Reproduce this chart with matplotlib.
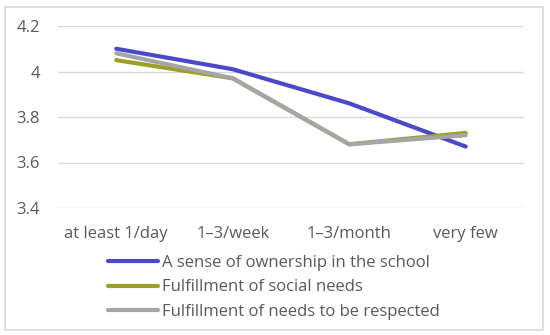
import matplotlib.pyplot as plt
from matplotlib.patches import Rectangle

categories = ['at least 1/day', '1\u20133/week', '1\u20133/month', 'very few']
ownership = [4.10, 4.01, 3.86, 3.67]
social = [4.05, 3.97, 3.68, 3.73]
respected = [4.08, 3.97, 3.68, 3.72]
yticks = [3.4, 3.6, 3.8, 4.0, 4.2]
ytick_labels = ['3.4', '3.6', '3.8', '4', '4.2']

plt.rcParams['font.family'] = ['Open Sans', 'DejaVu Sans']

fig = plt.figure(figsize=(5.5, 3.35), dpi=100)
ax = fig.add_axes([58 / 550, 1 - 208 / 335, 466 / 550, 182 / 335])

x = range(len(categories))
ax.plot(x, ownership, color='#4a4ac8', lw=3, label='A sense of ownership in the school', solid_capstyle='round')
ax.plot(x, social, color='#9aa024', lw=3, label='Fulfillment of social needs', solid_capstyle='round')
ax.plot(x, respected, color='#a5a5a5', lw=3, label='Fulfillment of needs to be respected', solid_capstyle='round')

ax.set_xlim(-0.5, 3.5)
ax.set_ylim(3.4, 4.2)
ax.set_yticks(yticks)
ax.set_yticklabels(ytick_labels)
ax.set_xticks(list(x))
ax.set_xticklabels(categories)
ax.tick_params(length=0, labelsize=12, colors='#595959', pad=13)
ax.tick_params(axis='y', pad=13)
ax.grid(axis='y', color='#d9d9d9', lw=1)
ax.set_axisbelow(True)
for s in ax.spines.values():
    s.set_visible(False)

fig.legend(loc='upper left', bbox_to_anchor=(108 / 550, 1 - 255 / 335), frameon=False,
           fontsize=12, labelcolor='#595959', handlelength=3.0, handletextpad=0.25,
           labelspacing=0.5, borderpad=0, borderaxespad=0)

fig.patches.append(Rectangle((5 / 550, 5 / 335), 538 / 550, 323 / 335, transform=fig.transFigure,
                             fill=False, edgecolor='#d9d9d9', lw=1.2))

fig.savefig('out.png', dpi=100)
